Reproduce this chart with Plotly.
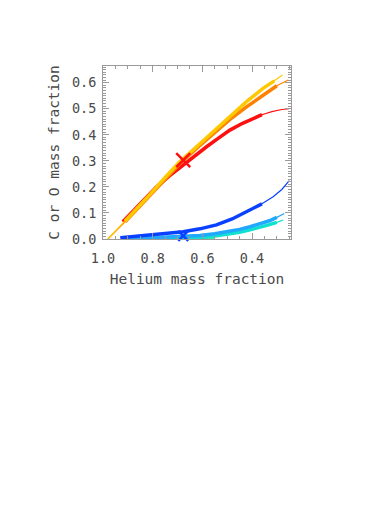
import plotly.graph_objects as go

# Helium mass fraction (x) vs C or O mass fraction (y)
he_yellow = [0.98, 0.95, 0.911, 0.86, 0.807, 0.75, 0.69, 0.62, 0.556, 0.49, 0.422, 0.356, 0.31, 0.277]
co_yellow = [0.0, 0.03, 0.069, 0.12, 0.175, 0.236, 0.297, 0.357, 0.412, 0.47, 0.527, 0.578, 0.607, 0.629]

he_orange = [0.98, 0.95, 0.911, 0.86, 0.807, 0.75, 0.69, 0.62, 0.556, 0.49, 0.422, 0.356, 0.30, 0.254]
co_orange = [0.0, 0.028, 0.066, 0.117, 0.171, 0.231, 0.29, 0.35, 0.403, 0.458, 0.507, 0.553, 0.588, 0.61]

he_red = [0.92, 0.86, 0.784, 0.73, 0.677, 0.63, 0.583, 0.535, 0.489, 0.44, 0.40, 0.36, 0.32, 0.28, 0.25]
co_red = [0.066, 0.127, 0.20, 0.244, 0.284, 0.32, 0.354, 0.387, 0.418, 0.443, 0.461, 0.477, 0.489, 0.497, 0.50]

he_blue = [0.93, 0.86, 0.8, 0.74, 0.677, 0.61, 0.543, 0.48, 0.408, 0.36, 0.315, 0.28, 0.25]
co_blue = [0.005, 0.011, 0.017, 0.022, 0.028, 0.039, 0.054, 0.077, 0.111, 0.135, 0.162, 0.19, 0.224]

he_lblue = [0.92, 0.8, 0.7, 0.61, 0.55, 0.5, 0.45, 0.408, 0.37, 0.33, 0.30, 0.27]
co_lblue = [0.0, 0.004, 0.008, 0.013, 0.02, 0.028, 0.037, 0.047, 0.057, 0.07, 0.083, 0.098]

he_cyan = [0.92, 0.8, 0.7, 0.61, 0.55, 0.5, 0.45, 0.408, 0.37, 0.33, 0.30, 0.274]
co_cyan = [0.0, 0.001, 0.003, 0.005, 0.011, 0.018, 0.026, 0.035, 0.044, 0.055, 0.064, 0.073]

he_green = [0.9, 0.72, 0.55]
co_green = [0.0, 0.0, 0.0]

# the two crosses
he_cross_red = [0.677]
co_cross_red = [0.303]
he_cross_blue = [0.677]
co_cross_blue = [0.012]

x_ticks = [1.0, 0.8, 0.6, 0.4]
y_ticks = [0.0, 0.1, 0.2, 0.3, 0.4, 0.5, 0.6]

FONT = "DejaVu Sans Mono"
TEXT = "#4a4a4a"
FRAME = "#9a9a9a"


def add_track(fig, x, y, color, thick_from, thick_to):
    # thin line over the whole track, thick where the models pile up
    fig.add_trace(go.Scatter(x=x, y=y, mode="lines", line=dict(color=color, width=1.2),
                             showlegend=False, hoverinfo="skip"))
    xs = [a for a in x if thick_to <= a <= thick_from]
    ys = [b for a, b in zip(x, y) if thick_to <= a <= thick_from]
    fig.add_trace(go.Scatter(x=xs, y=ys, mode="lines", line=dict(color=color, width=3.5),
                             showlegend=False, hoverinfo="skip"))


fig = go.Figure()

add_track(fig, he_green, co_green, "#40f0a8", 0.9, 0.55)
add_track(fig, he_cyan, co_cyan, "#10e0d0", 0.92, 0.30)
add_track(fig, he_lblue, co_lblue, "#20a8ff", 0.92, 0.30)
add_track(fig, he_blue, co_blue, "#0a40ff", 0.93, 0.36)
add_track(fig, he_red, co_red, "#ff1010", 0.92, 0.36)
add_track(fig, he_orange, co_orange, "#ff8000", 0.911, 0.30)
add_track(fig, he_yellow, co_yellow, "#ffc800", 0.911, 0.31)

fig.add_trace(go.Scatter(x=he_cross_red, y=co_cross_red, mode="markers",
                         marker=dict(symbol="x-thin", size=14, line=dict(color="#ff1010", width=2.5)),
                         showlegend=False, hoverinfo="skip"))
fig.add_trace(go.Scatter(x=he_cross_blue, y=co_cross_blue, mode="markers",
                         marker=dict(symbol="x-thin", size=10, line=dict(color="#0a40ff", width=2.5)),
                         showlegend=False, hoverinfo="skip", cliponaxis=False))

axis_common = dict(
    showline=True, linecolor=FRAME, linewidth=1, mirror="allticks",
    ticks="inside", tickcolor=FRAME, ticklen=6, tickwidth=1,
    showgrid=False, zeroline=False, automargin=False,
    tickfont=dict(family=FONT, size=13.5, color=TEXT),
)

fig.update_xaxes(
    range=[1.0, 0.243], tickvals=x_ticks, tickformat=".1f", ticklabelstandoff=7,
    minor=dict(dtick=0.05, ticks="inside", ticklen=3, tickcolor=FRAME),
    title=dict(text="Helium mass fraction", font=dict(family=FONT, size=14.5, color=TEXT), standoff=8),
    **axis_common,
)
fig.update_yaxes(
    range=[0.0, 0.664], tickvals=y_ticks, tickformat=".1f", ticklabelstandoff=3,
    minor=dict(dtick=0.01, ticks="inside", ticklen=3, tickcolor=FRAME),
    title=dict(text="C or O mass fraction", font=dict(family=FONT, size=14.5, color=TEXT), standoff=8),
    **axis_common,
)

# the page body adds an 8 px offset, so the margins are pulled in to match
fig.update_layout(
    width=374, height=529,
    margin=dict(l=95, r=91, t=58, b=298),
    paper_bgcolor="white", plot_bgcolor="white",
)

fig.write_html("out.html")
